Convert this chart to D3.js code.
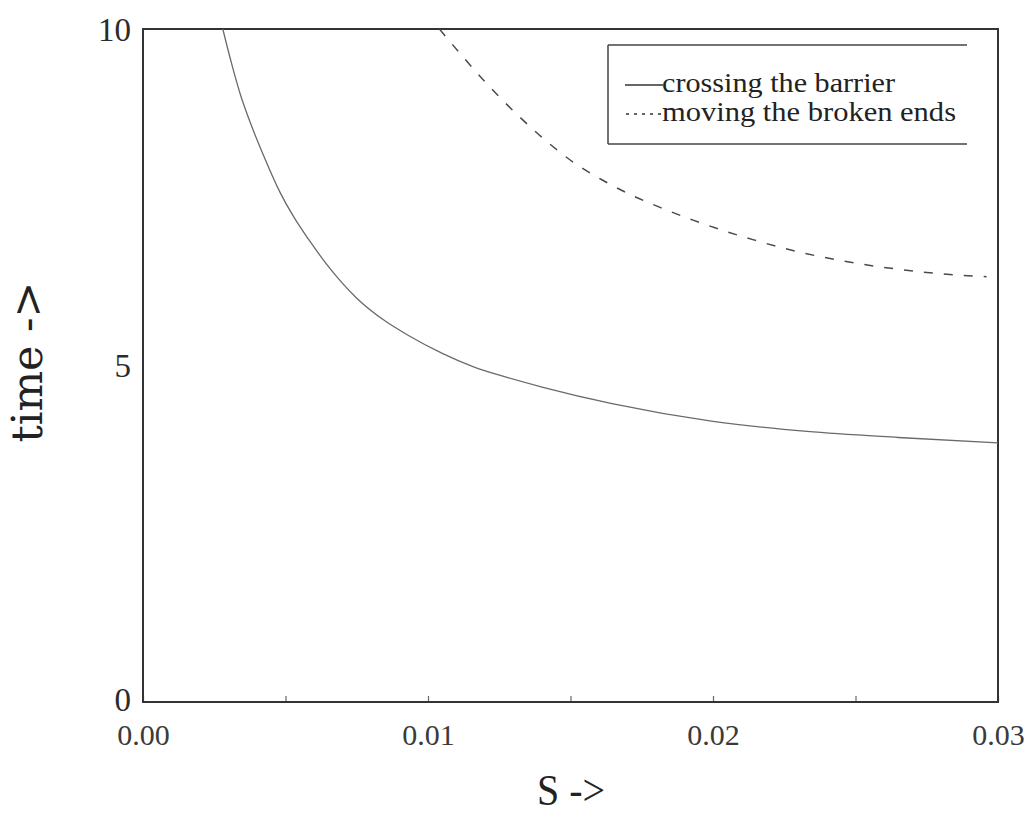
<!DOCTYPE html>
<html>
<head>
<meta charset="utf-8">
<script src="https://cdn.jsdelivr.net/npm/d3@7"></script>
<style>
  html, body { margin: 0; padding: 0; background: #ffffff; }
  svg { display: block; }
</style>
</head>
<body>
<svg id="chart" width="1025" height="816"></svg>
<script>
// Time needed as a function of S for the two processes
const barrierS = [0.0028, 0.0031, 0.0034, 0.0038, 0.0042, 0.0048, 0.0053, 0.0058, 0.0066, 0.0075,
                  0.0085, 0.0093, 0.0105, 0.0116, 0.0128, 0.0140, 0.0165, 0.0200, 0.0233, 0.0265, 0.0300];
const barrierT = [10.0, 9.5, 9.05, 8.57, 8.15, 7.58, 7.2, 6.88, 6.42, 6.0,
                  5.66, 5.45, 5.18, 4.98, 4.82, 4.68, 4.43, 4.17, 4.02, 3.93, 3.85];

const endsS = [0.0104, 0.0112, 0.0121, 0.0131, 0.0140, 0.0150, 0.0161, 0.0171, 0.0182,
               0.0193, 0.0204, 0.0214, 0.0225, 0.0246, 0.0265, 0.0287, 0.0296];
const endsT = [10.0, 9.6, 9.17, 8.74, 8.39, 8.05, 7.76, 7.54, 7.34,
               7.16, 7.0, 6.87, 6.74, 6.55, 6.43, 6.34, 6.32];

const xTicks = [0, 0.005, 0.01, 0.015, 0.02, 0.025, 0.03];
const xLabelled = [0, 0.01, 0.02, 0.03];
const yTicks = [0, 5, 10];
const seriesNames = ["crossing the barrier", "moving the broken ends"];

const svg = d3.select("#chart");
const plot = { left: 143, right: 998, top: 29, bottom: 702 };

const x = d3.scaleLinear().domain([0, 0.03]).range([plot.left, plot.right]);
const y = d3.scaleLinear().domain([0, 10]).range([plot.bottom, plot.top]);

const ink = "#2b2b2b";
const serif = "'Liberation Serif', 'Times New Roman', serif";

// x axis: inward ticks every 0.005, labels every 0.01
const xAxis = d3.axisBottom(x)
  .tickValues(xTicks)
  .tickSizeInner(-6)
  .tickSizeOuter(0)
  .tickPadding(22)
  .tickFormat(d => xLabelled.some(v => Math.abs(v - d) < 1e-9) ? d3.format(".2f")(d) : "");
const gx = svg.append("g").attr("transform", `translate(0,${plot.bottom})`).call(xAxis);
gx.select(".domain").remove();
gx.selectAll(".tick line").attr("stroke", "#666").attr("stroke-width", 1.2);
gx.selectAll(".tick text")
  .attr("fill", "#3a3a3a")
  .style("font-family", serif)
  .style("font-size", "30px");

// y axis: labels only; the bottom label sits a little higher so it clears 0.00
const yAxis = d3.axisLeft(y).tickValues(yTicks).tickSize(0).tickPadding(12).tickFormat(d3.format("d"));
const gy = svg.append("g").attr("transform", `translate(${plot.left},0)`).call(yAxis);
gy.select(".domain").remove();
gy.selectAll(".tick text")
  .attr("fill", ink)
  .attr("dy", d => d === 0 ? "0.25em" : "0.34em")
  .style("font-family", serif)
  .style("font-size", "33px");

// plot frame
svg.append("rect")
  .attr("x", plot.left).attr("y", plot.top)
  .attr("width", plot.right - plot.left).attr("height", plot.bottom - plot.top)
  .attr("fill", "none").attr("stroke", "#333").attr("stroke-width", 2);

const line = d3.line().x(d => x(d[0])).y(d => y(d[1])).curve(d3.curveMonotoneX);

svg.append("path")
  .datum(d3.zip(barrierS, barrierT))
  .attr("d", line)
  .attr("fill", "none")
  .attr("stroke", "#6a6a6a")
  .attr("stroke-width", 1.3);

svg.append("path")
  .datum(d3.zip(endsS, endsT))
  .attr("d", line)
  .attr("fill", "none")
  .attr("stroke", "#4a4a4a")
  .attr("stroke-width", 1.5)
  .attr("stroke-dasharray", "9,11");

// legend: open box on the right side
const lg = svg.append("g");
const lx0 = 608, lx1 = 967, ly0 = 45, ly1 = 144;
lg.append("line").attr("x1", lx0).attr("x2", lx1).attr("y1", ly0).attr("y2", ly0);
lg.append("line").attr("x1", lx0).attr("x2", lx1).attr("y1", ly1).attr("y2", ly1);
lg.append("line").attr("x1", lx0).attr("x2", lx0).attr("y1", ly0).attr("y2", ly1);
lg.selectAll("line").attr("stroke", "#444").attr("stroke-width", 1.5);

lg.append("line").attr("x1", 625).attr("x2", 663).attr("y1", 85).attr("y2", 85)
  .attr("stroke", "#333").attr("stroke-width", 1.4);
lg.append("line").attr("x1", 626).attr("x2", 663).attr("y1", 114).attr("y2", 114)
  .attr("stroke", "#333").attr("stroke-width", 1.4).attr("stroke-dasharray", "3,5");

const legendWidths = [233, 294];
lg.selectAll("text.entry")
  .data(seriesNames)
  .join("text")
  .attr("class", "entry")
  .attr("x", 662)
  .attr("y", (d, i) => 92 + i * 29)
  .attr("fill", "#222")
  .attr("textLength", (d, i) => legendWidths[i])
  .attr("lengthAdjust", "spacingAndGlyphs")
  .style("font-family", serif)
  .style("font-size", "28px")
  .text(d => d);

// axis titles
svg.append("text")
  .attr("transform", "translate(42,362) rotate(-90)")
  .attr("text-anchor", "middle")
  .attr("fill", "#222")
  .attr("textLength", 161)
  .attr("lengthAdjust", "spacingAndGlyphs")
  .style("font-family", "'DejaVu Serif', serif")
  .style("font-size", "42px")
  .text("time ->");

svg.append("text")
  .attr("x", 571)
  .attr("y", 805)
  .attr("text-anchor", "middle")
  .attr("fill", "#222")
  .attr("textLength", 68)
  .attr("lengthAdjust", "spacingAndGlyphs")
  .style("font-family", serif)
  .style("font-size", "44px")
  .text("S ->");
</script>
</body>
</html>
